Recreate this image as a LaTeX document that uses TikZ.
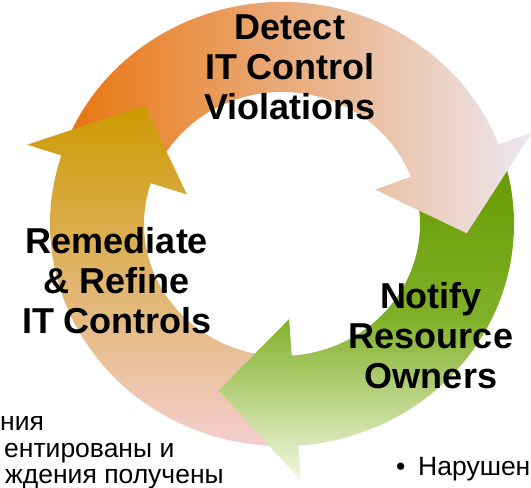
\documentclass[tikz,border=0pt]{standalone}
\usepackage{fontspec}
\setmainfont{Liberation Sans}
\usetikzlibrary{positioning}
\tikzset{
  font=\rmfamily
}
\definecolor{orangeA}{RGB}{232,117,16}
\definecolor{orangeB}{RGB}{236,232,242}
\definecolor{greenA}{RGB}{102,153,0}
\definecolor{greenM}{RGB}{128,176,40}
\definecolor{greenB}{RGB}{244,247,226}
\definecolor{tanA}{RGB}{204,154,0}
\definecolor{tanB}{RGB}{244,206,208}
\def\ROut{232pt}
\def\RIn{138pt}
\def\RMid{185pt}
\def\RBarbOut{268pt}
\def\RBarbIn{100pt}
% #1 start angle, #2 head base, #3 tip
\newcommand{\ringarrow}[3]{(#1:\ROut) arc[start angle=#1, end angle=#2, radius=\ROut]
  -- (#2:\RBarbOut) -- (#3:\RMid) -- (#2:\RBarbIn) -- (#2:\RIn)
  arc[start angle=#2, end angle=#1, radius=\RIn] -- cycle}

\begin{document}
\begin{tikzpicture}[x=1pt,y=1pt,
  phase/.style={font=\fontsize{36}{40}\selectfont\bfseries,align=center,inner sep=0pt},
  note/.style={font=\fontsize{26.5}{27}\selectfont,anchor=base west,inner sep=0pt},
  detectfill/.style={left color=orangeA,right color=orangeB},
  notifyfill/.style={top color=greenA,bottom color=greenB,middle color=greenM},
  refinefill/.style={top color=tanA,bottom color=tanB}]
\useasboundingbox (0,0) rectangle (531,-488);
% the ring
\begin{scope}[shift={(282,-224)},yscale=0.957]
  \shade[notifyfill] \ringarrow{18}{-86}{-110};
  \shade[detectfill] \ringarrow{157}{21}{-3};
  \shade[refinefill] \ringarrow{-90}{-198}{-222};
\end{scope}
% green head on top of the tan tail
\begin{scope}
  \clip (150,-300) rectangle (345,-488);
  \shade[notifyfill,shift={(282,-224)},yscale=0.957] \ringarrow{18}{-86}{-110};
\end{scope}

\node[phase] (detect) at (290,-67) {Detect\\IT Control\\Violations};
\node[phase] (notify) at (431,-336) {Notify\\Resource\\Owners};
\node[phase] (remediate) at (117,-281) {Remediate\\\& Refine\\IT Controls};

\node[note] (noteA) at (0,-430) {ния};
\node[note] (noteB) at (4,-457) {ентированы и};
\node[note] (noteC) at (5,-483) {ждения получены};
\node[note] (dot) at (396,-475) {•};
\node[note] (issue) at (418,-475) {Нарушен};
\end{tikzpicture}
\end{document}
